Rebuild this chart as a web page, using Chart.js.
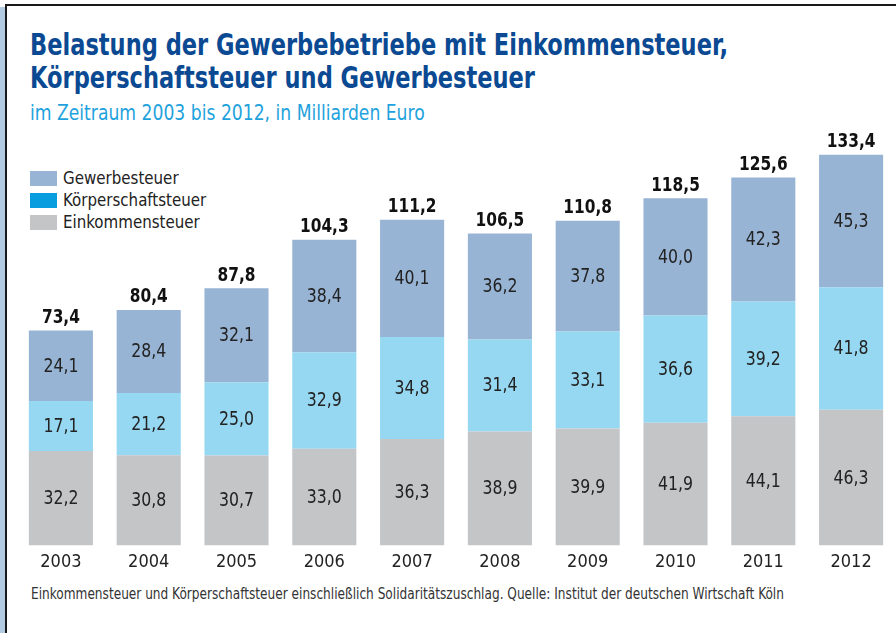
<!DOCTYPE html>
<html>
<head>
<meta charset="utf-8">
<script src="https://cdn.jsdelivr.net/npm/chart.js@4"></script>
<style>
	html, body { margin: 0; padding: 0; background: #fff; }
	body { width: 896px; height: 633px; position: relative; overflow: hidden; font-family: 'DejaVu Sans Condensed', 'Liberation Sans', sans-serif; }
	#strip { position: absolute; left: 0; top: 7px; width: 5px; bottom: 0; background: #b3cbe2; }
	#frame { position: absolute; left: 5px; top: 4px; right: 0; bottom: 0; border-left: 2px solid #1a1a1a; border-top: 2px solid #1a1a1a; }
	.narrow { transform-origin: 0 0; white-space: nowrap; }
	h1 { position: absolute; left: 30px; top: 28px; margin: 0; font-size: 30px; line-height: 33px; font-weight: bold; color: #0b4a92; transform: scaleX(0.835); }
	#sub { position: absolute; left: 30px; top: 101px; font-size: 21px; color: #1ea2dd; transform: scaleX(0.91); }
	#legend { position: absolute; left: 30px; top: 168px; font-size: 18px; color: #222; }
	#legend div { height: 22px; line-height: 20px; white-space: nowrap; }
	#legend span.sw { display: inline-block; width: 27px; height: 15px; margin-right: 6px; vertical-align: -2px; }
	#legend span.tx { display: inline-block; transform: scaleX(0.93); transform-origin: 0 50%; }
	#foot { position: absolute; left: 31px; top: 585px; font-size: 15px; color: #333; transform: scaleX(0.9); }
	#wrap { position: absolute; left: 17px; top: 100px; width: 878px; height: 480px; }
</style>
</head>
<body>
<div id="strip"></div>
<div id="frame"></div>
<h1 class="narrow">Belastung der Gewerbebetriebe mit Einkommensteuer,<br>Körperschaftsteuer und Gewerbesteuer</h1>
<div id="sub" class="narrow">im Zeitraum 2003 bis 2012, in Milliarden Euro</div>
<div id="legend"></div>
<div id="foot" class="narrow">Einkommensteuer und Körperschaftsteuer einschließlich Solidaritätszuschlag. Quelle: Institut der deutschen Wirtschaft Köln</div>
<div id="wrap"><canvas id="chart"></canvas></div>
<script>
const years = ['2003', '2004', '2005', '2006', '2007', '2008', '2009', '2010', '2011', '2012']
const einkommensteuer = [32.2, 30.8, 30.7, 33.0, 36.3, 38.9, 39.9, 41.9, 44.1, 46.3]
const koerperschaftsteuer = [17.1, 21.2, 25.0, 32.9, 34.8, 31.4, 33.1, 36.6, 39.2, 41.8]
const gewerbesteuer = [24.1, 28.4, 32.1, 38.4, 40.1, 36.2, 37.8, 40.0, 42.3, 45.3]
const totals = [73.4, 80.4, 87.8, 104.3, 111.2, 106.5, 110.8, 118.5, 125.6, 133.4]

const FONT = "'DejaVu Sans Condensed', 'Liberation Sans', sans-serif"
const fmt = v => v.toFixed(1).replace('.', ',')

// legend (Körperschaftsteuer swatch is darker than its bars, as in the original)
const legendItems = [
	['Gewerbesteuer', '#98b4d4'],
	['Körperschaftsteuer', '#079ddf'],
	['Einkommensteuer', '#c4c5c7'],
]
const legend = document.getElementById('legend')
legendItems.forEach(([name, col]) => {
	const row = document.createElement('div')
	row.innerHTML = `<span class="sw" style="background:${col}"></span><span class="tx">${name}</span>`
	legend.appendChild(row)
})

// squeezed text, the original uses a condensed face
function narrowText(ctx, txt, x, y, sx) {
	ctx.save()
	ctx.translate(x, y)
	ctx.scale(sx, 1)
	ctx.fillText(txt, 0, 0)
	ctx.restore()
}

const valueLabels = {
	id: 'valueLabels',
	afterDatasetsDraw(chart) {
		const ctx = chart.ctx
		ctx.save()
		ctx.textAlign = 'center'
		ctx.textBaseline = 'middle'
		ctx.fillStyle = '#222'
		ctx.font = `19px ${FONT}`
		chart.data.datasets.forEach((ds, i) => {
			chart.getDatasetMeta(i).data.forEach((bar, j) => {
				const mid = (bar.y + bar.base) / 2
				narrowText(ctx, fmt(ds.data[j]), bar.x, mid + 1, 0.92)
			})
		})
		// totals above the stacks
		const top = chart.getDatasetMeta(chart.data.datasets.length - 1).data
		ctx.font = `bold 19px ${FONT}`
		ctx.fillStyle = '#111'
		ctx.textBaseline = 'bottom'
		top.forEach((bar, j) => {
			narrowText(ctx, fmt(totals[j]), bar.x, bar.y - 3, 0.9)
		})
		ctx.restore()
	},
}

new Chart(document.getElementById('chart'), {
	type: 'bar',
	data: {
		labels: years,
		datasets: [
			{ label: 'Einkommensteuer', data: einkommensteuer, backgroundColor: '#c4c5c7' },
			{ label: 'Körperschaftsteuer', data: koerperschaftsteuer, backgroundColor: '#96d7f1' },
			{ label: 'Gewerbesteuer', data: gewerbesteuer, backgroundColor: '#98b4d4' },
		],
	},
	options: {
		responsive: true,
		maintainAspectRatio: false,
		animation: false,
		barPercentage: 0.73,
		categoryPercentage: 1,
		layout: { padding: { top: 6, bottom: 1 } },
		scales: {
			x: {
				stacked: true,
				grid: { display: false, drawTicks: false },
				border: { display: false },
				ticks: { color: '#222', font: { family: FONT, size: 18 }, padding: 6 },
			},
			y: { stacked: true, display: false, min: 0, max: 150 },
		},
		plugins: { legend: { display: false }, tooltip: { enabled: false } },
	},
	plugins: [valueLabels],
})
</script>
</body>
</html>
